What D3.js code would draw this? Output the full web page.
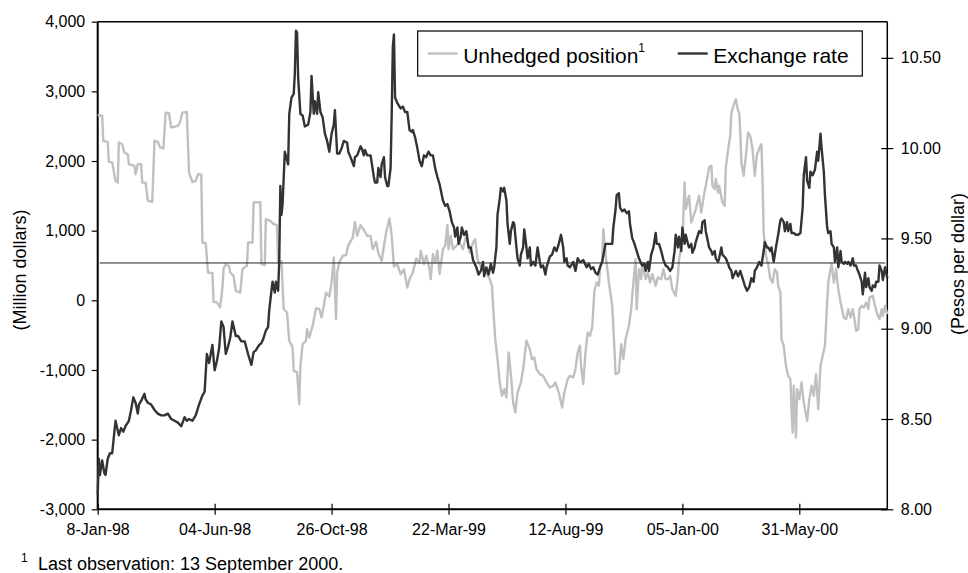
<!DOCTYPE html>
<html>
<head>
<meta charset="utf-8">
<script src="https://cdnjs.cloudflare.com/ajax/libs/d3/7.8.5/d3.min.js"></script>
<style>
  body { margin: 0; background: #fff; }
  text { font-family: "Liberation Sans", Arial, sans-serif; fill: #000; }
</style>
</head>
<body>
<div id="chart-area"></div>
<script>
// --- Data (observation number, business days from 8-Jan-98) ---
var xTickIdx = [0, 105, 210, 315, 420, 525, 630];
var xTickLabels = ["8-Jan-98", "04-Jun-98", "26-Oct-98", "22-Mar-99", "12-Aug-99", "05-Jan-00", "31-May-00"];
var lastObs = 709;

var leftTicks = [-3000, -2000, -1000, 0, 1000, 2000, 3000, 4000];
var rightTicks = [8.00, 8.50, 9.00, 9.50, 10.00, 10.50];
var refRate = 9.364;

// Unhedged position (million dollars)
var uhIdx = [0,4,5,9,10,13,16,18,19,22,24,27,28,33,34,36,39,40,43,45,49,51,54,56,59,61,64,66,72,74,76,80,82,85,88,90,93,94,97,99,
  103,104,107,110,112,113,115,118,119,122,124,128,130,134,135,139,140,146,147,150,151,155,158,161,162,165,167,170,172,175,
  176,179,181,182,184,187,188,190,193,196,199,201,203,205,208,210,212,214,215,217,220,223,225,229,231,233,236,239,242,245,
  247,250,252,255,257,259,262,264,266,269,272,275,278,280,283,286,289,290,293,295,298,299,301,303,305,307,310,312,314,315,
  317,319,322,325,328,331,334,337,339,341,343,346,349,352,354,355,357,359,361,363,365,367,369,371,373,375,377,380,382,385,
  388,390,392,394,397,400,403,406,409,411,414,417,419,422,424,427,429,431,433,434,436,438,440,442,444,446,448,450,451,453,
  454,456,458,459,462,464,465,468,470,472,474,477,479,481,483,484,486,488,489,492,494,496,498,501,503,506,508,510,512,514,
  516,519,521,522,525,527,528,531,533,535,537,540,542,544,546,549,551,552,554,555,557,558,561,563,564,567,568,569,571,573,
  575,576,577,578,580,582,584,586,588,590,592,595,596,597,598,600,602,604,606,608,610,611,613,614,616,618,620,622,623,624,
  625,627,628,630,632,634,637,639,641,643,645,647,649,651,653,655,656,658,659,661,663,665,667,670,672,674,676,678,680,681,
  683,684,686,688,690,692,693,696,698,700,702,704,705,707,709];
var uhVal = [2660,2650,2290,2275,1990,1980,1715,1690,2265,2240,2120,2100,1955,1930,1810,1955,1955,1690,1690,1430,1415,2290,2275,2195,2180,2695,2685,2480,2505,2560,2695,2705,1835,1700,1715,1810,1805,830,820,400,
  390,-20,-30,-100,185,450,520,485,400,350,135,110,450,495,830,830,1405,1410,520,505,1165,1140,1095,1080,545,565,-125,-175,-580,-675,
  -1010,-1035,-1490,-940,-630,-580,-415,-535,-365,-115,-125,-245,-80,110,55,255,615,-270,400,545,640,650,790,900,1125,925,1080,1010,925,925,
  735,840,675,565,780,975,1175,925,485,520,375,445,185,305,400,600,543,711,519,639,447,304,663,543,711,376,734,782,1079,734,
  926,734,782,830,734,950,687,830,878,591,519,447,400,304,208,-79,-557,-845,-1180,-1371,-1275,-1395,-749,-1060,-1467,-1610,-1323,-1180,-988,-581,
  -701,-845,-821,-988,-1060,-1084,-1180,-1251,-1227,-1180,-1323,-1538,-1323,-1132,-1084,-1108,-988,-749,-650,-940,-1203,-749,-462,-510,-390,136,256,208,447,591,
  1022,663,400,256,-79,-701,-1060,-1036,-629,-845,-557,-366,-127,256,591,-127,447,304,543,304,400,256,376,208,328,304,447,304,304,352,
  160,64,352,591,830,1692,1309,1500,1117,1213,1309,1500,1261,1476,1644,1907,1931,1644,1596,1740,1548,1644,1404,1357,1907,2266,2361,2696,2800,2888,
  2720,2696,2409,1978,1787,2074,2409,2361,2170,1787,2098,2218,2242,1692,974,639,519,304,256,447,400,208,112,-557,-653,-940,-1084,-1132,-1562,-1897,
  -1227,-1969,-1275,-1419,-1180,-1467,-1730,-1419,-1227,-1371,-1060,-1562,-940,-797,-653,-31,256,447,519,256,447,160,-31,-247,-270,-127,-247,-127,-318,-438,
  -414,-127,-79,-103,-31,-127,41,64,-79,-199,-270,-127,-223,-79,-200];

// Exchange rate (pesos per dollar)
var exIdx = [0,1,2,4,6,7,9,11,13,15,16,19,21,23,25,28,30,32,34,36,37,39,42,43,45,48,51,54,57,60,63,66,69,72,75,78,80,82,85,88,
  91,94,96,98,100,103,105,107,109,111,113,115,117,119,121,124,126,129,132,135,138,140,142,145,147,149,151,153,154,156,
  157,159,160,162,163,164,165,166,168,171,172,174,176,177,178,179,180,182,184,186,189,191,192,194,195,197,198,200,202,204,
  206,208,210,212,213,215,217,219,221,224,225,227,230,231,233,236,237,239,240,242,245,246,248,249,251,252,254,255,257,258,
  260,261,263,264,265,266,267,269,270,272,274,276,278,280,282,283,285,287,289,291,293,295,297,299,301,303,305,307,310,312,
  314,316,318,320,321,323,324,326,327,329,331,333,335,337,340,342,344,346,347,349,351,353,355,356,358,359,361,362,364,365,
  367,368,370,371,373,374,376,377,379,380,382,383,385,386,388,389,391,393,395,397,398,400,402,403,406,408,410,412,414,416,
  418,419,421,422,424,427,429,431,433,434,436,439,441,443,445,447,449,451,453,456,458,460,462,463,465,466,468,469,471,473,
  475,477,478,480,482,484,486,488,489,491,492,494,495,497,499,501,502,504,506,508,510,512,514,516,518,519,521,522,524,525,
  527,528,530,531,533,534,536,537,539,540,542,543,545,546,548,549,551,552,554,555,557,558,560,561,564,566,567,569,570,573,
  575,577,579,581,583,585,587,589,590,592,594,596,598,599,601,602,604,605,607,609,611,613,614,616,617,619,620,622,623,625,
  627,629,631,633,634,636,637,639,640,642,644,646,647,649,650,652,653,655,656,658,659,661,662,664,665,667,668,670,671,673,
  674,676,678,679,681,682,684,686,687,689,690,692,693,695,696,698,699,701,702,704,705,707,709];
var exVal = [8.08,8.28,8.19,8.27,8.20,8.19,8.28,8.31,8.31,8.43,8.49,8.41,8.45,8.43,8.46,8.49,8.55,8.62,8.59,8.53,8.58,8.60,8.64,8.61,8.59,8.58,8.55,8.53,8.52,8.52,8.53,8.50,8.49,8.48,8.46,8.51,8.49,8.50,8.49,8.52,
  8.58,8.63,8.65,8.86,8.81,8.91,8.77,8.82,8.89,9.04,9.01,8.86,8.90,8.95,9.04,8.96,8.96,8.93,8.93,8.86,8.80,8.87,8.88,8.91,8.92,8.95,8.99,9.01,9.10,9.21,
  9.26,9.20,9.26,9.21,9.37,9.79,9.63,9.69,9.98,9.91,10.19,10.28,10.30,10.41,10.65,10.64,10.39,10.19,10.18,10.12,10.13,10.20,10.40,10.19,10.26,10.19,10.31,10.20,10.17,10.08,
  10.04,9.98,10.08,10.13,10.21,9.97,9.97,10.00,10.04,10.03,9.98,9.95,9.90,9.95,9.96,10.01,10.00,9.96,9.99,9.96,9.96,9.92,9.84,9.81,9.81,9.89,9.84,9.91,9.95,9.84,
  9.79,9.79,9.89,10.19,10.56,10.63,10.28,10.25,10.24,10.22,10.23,10.20,10.20,10.10,10.09,10.10,10.06,10.00,9.93,9.90,9.96,9.95,9.98,9.96,9.96,9.89,9.84,9.80,9.71,9.68,
  9.69,9.65,9.59,9.56,9.51,9.56,9.47,9.51,9.56,9.52,9.54,9.45,9.45,9.38,9.34,9.30,9.32,9.37,9.29,9.34,9.30,9.36,9.31,9.34,9.45,9.63,9.72,9.78,9.76,9.78,
  9.71,9.58,9.47,9.54,9.59,9.58,9.45,9.39,9.35,9.41,9.45,9.55,9.45,9.39,9.45,9.35,9.37,9.35,9.45,9.37,9.34,9.35,9.30,9.34,9.40,9.41,9.45,9.43,9.47,9.52,
  9.45,9.37,9.39,9.35,9.34,9.37,9.32,9.39,9.37,9.37,9.38,9.34,9.36,9.33,9.34,9.31,9.30,9.34,9.37,9.47,9.47,9.47,9.47,9.56,9.66,9.74,9.75,9.67,9.65,9.66,
  9.64,9.65,9.58,9.50,9.47,9.43,9.39,9.36,9.35,9.36,9.32,9.37,9.32,9.41,9.45,9.53,9.47,9.47,9.43,9.38,9.35,9.34,9.32,9.34,9.43,9.52,9.45,9.51,9.43,9.56,
  9.47,9.52,9.47,9.45,9.47,9.42,9.45,9.48,9.52,9.54,9.53,9.59,9.60,9.54,9.48,9.45,9.43,9.41,9.43,9.39,9.37,9.39,9.45,9.41,9.39,9.36,9.34,9.32,9.28,9.32,
  9.29,9.32,9.28,9.24,9.21,9.23,9.28,9.26,9.32,9.34,9.37,9.35,9.43,9.48,9.45,9.45,9.43,9.45,9.37,9.45,9.52,9.60,9.61,9.59,9.54,9.59,9.54,9.58,9.53,9.53,
  9.52,9.52,9.53,9.67,9.85,9.95,9.82,9.78,9.87,9.85,9.88,9.98,9.93,10.08,10.00,9.87,9.74,9.56,9.53,9.54,9.47,9.45,9.37,9.45,9.34,9.43,9.37,9.36,9.37,9.36,
  9.37,9.35,9.39,9.35,9.35,9.33,9.30,9.26,9.19,9.31,9.23,9.28,9.23,9.21,9.24,9.23,9.26,9.26,9.35,9.32,9.27,9.34,9.28];

// --- Setup the canvas ---
var canvasWidth = 968;
var canvasHeight = 573;
var canvas = d3.select("#chart-area").append("svg")
  .attr("width", canvasWidth)
  .attr("height", canvasHeight);

var margins = {top: 21.7, bottom: 63.7, left: 97.7, right: 80.7};
var graphWidth = canvasWidth - margins.left - margins.right;
var graphHeight = canvasHeight - margins.top - margins.bottom;
var graph = canvas.append("g")
  .attr("transform", "translate(" + margins.left + "," + margins.top + ")");

var tickFont = 16;

// --- Scales ---
var xScale = d3.scaleLinear().domain([0, lastObs]).range([0, graphWidth]);
var yLeft = d3.scaleLinear().domain([-3000, 4000]).range([graphHeight, 0]);
var yRight = d3.scaleLinear().domain([8, 10.70]).range([graphHeight, 0]);

// --- Axes ---
var commaFmt = d3.format(",");
var leftAxis = d3.axisLeft(yLeft)
  .tickValues(leftTicks)
  .tickFormat(function(d) { return commaFmt(d).replace("\u2212", "-"); })
  .tickSize(6).tickSizeOuter(0).tickPadding(6.5);
var gLeft = graph.append("g").call(leftAxis);

var rightAxis = d3.axisRight(yRight)
  .tickValues(rightTicks)
  .tickFormat(d3.format(".2f"))
  .tickSize(6).tickSizeOuter(0).tickPadding(7.5);
var gRight = graph.append("g")
  .attr("transform", "translate(" + graphWidth + ",0)")
  .call(rightAxis);
gRight.selectAll(".tick line").attr("x1", -6);

var bottomAxis = d3.axisBottom(xScale)
  .tickValues(xTickIdx)
  .tickFormat(function(d, i) { return xTickLabels[i]; })
  .tickSize(5.5).tickSizeOuter(0);
var gBottom = graph.append("g")
  .attr("transform", "translate(0," + graphHeight + ")")
  .call(bottomAxis);
gBottom.selectAll(".tick line").attr("y1", -5.5);
gBottom.selectAll(".tick text").attr("y", 26).attr("dy", null);

[gLeft, gRight, gBottom].forEach(function(g) {
  g.select(".domain").remove();
  g.selectAll(".tick line").attr("stroke", "#000").attr("stroke-width", 1.2);
  g.selectAll(".tick text")
    .attr("font-size", tickFont + "px")
    .attr("font-family", "Liberation Sans, Arial, sans-serif")
    .attr("fill", "#000");
});

// frame
graph.append("line").attr("x1", 0).attr("x2", graphWidth).attr("y1", 0).attr("y2", 0)
  .attr("stroke", "#000").attr("stroke-width", 1.5);
graph.append("line").attr("x1", graphWidth).attr("x2", graphWidth).attr("y1", 0).attr("y2", graphHeight)
  .attr("stroke", "#000").attr("stroke-width", 1.5);
graph.append("line").attr("x1", 0).attr("x2", 0).attr("y1", 0).attr("y2", graphHeight)
  .attr("stroke", "#000").attr("stroke-width", 2);
graph.append("line").attr("x1", 0).attr("x2", graphWidth).attr("y1", graphHeight).attr("y2", graphHeight)
  .attr("stroke", "#000").attr("stroke-width", 2);

// --- Lines ---
var uhData = uhIdx.map(function(d, i) { return {i: d, v: uhVal[i]}; });
var exData = exIdx.map(function(d, i) { return {i: d, v: exVal[i]}; });

var uhLine = d3.line()
  .x(function(d) { return xScale(d.i); })
  .y(function(d) { return yLeft(d.v); });
var exLine = d3.line()
  .x(function(d) { return xScale(d.i); })
  .y(function(d) { return yRight(d.v); });

graph.append("path")
  .datum(uhData)
  .attr("d", uhLine)
  .attr("fill", "none")
  .attr("stroke", "#c0c0c0")
  .attr("stroke-width", 2.4)
  .attr("stroke-linejoin", "round");

// reference level
graph.append("line")
  .attr("x1", 2).attr("x2", graphWidth - 2)
  .attr("y1", yRight(refRate)).attr("y2", yRight(refRate))
  .attr("stroke", "#222").attr("stroke-width", 1);

graph.append("path")
  .datum(exData)
  .attr("d", exLine)
  .attr("fill", "none")
  .attr("stroke", "#333")
  .attr("stroke-width", 2.4)
  .attr("stroke-linejoin", "round");

// --- Axis titles ---
canvas.append("text")
  .text("(Million dollars)")
  .attr("transform", "translate(26,270) rotate(-90)")
  .attr("text-anchor", "middle")
  .attr("font-size", "18px");

canvas.append("text")
  .text("(Pesos per dollar)")
  .attr("transform", "translate(964,264) rotate(-90)")
  .attr("text-anchor", "middle")
  .attr("font-size", "18px");

// --- Legend ---
var legend = canvas.append("g").attr("transform", "translate(417.7,31)");
legend.append("rect")
  .attr("width", 444.6).attr("height", 45)
  .attr("fill", "#fff").attr("stroke", "#000").attr("stroke-width", 1.2);

legend.append("line")
  .attr("x1", 10).attr("x2", 40).attr("y1", 22.5).attr("y2", 22.5)
  .attr("stroke", "#c0c0c0").attr("stroke-width", 2.4);
var uhText = legend.append("text")
  .attr("x", 45.5).attr("y", 32.3)
  .attr("font-size", "21px")
  .text("Unhedged position");
uhText.append("tspan")
  .attr("font-size", "12px")
  .attr("dy", -11)
  .text("1");

legend.append("line")
  .attr("x1", 260).attr("x2", 290).attr("y1", 22.5).attr("y2", 22.5)
  .attr("stroke", "#333").attr("stroke-width", 2.4);
legend.append("text")
  .attr("x", 295.5).attr("y", 32.3)
  .attr("font-size", "21px")
  .text("Exchange rate");

// --- Footnote ---
canvas.append("text")
  .attr("x", 21).attr("y", 562)
  .attr("font-size", "12px")
  .text("1");
canvas.append("text")
  .attr("x", 38).attr("y", 569.5)
  .attr("font-size", "18px")
  .text("Last observation: 13 September 2000.");
</script>
</body>
</html>
